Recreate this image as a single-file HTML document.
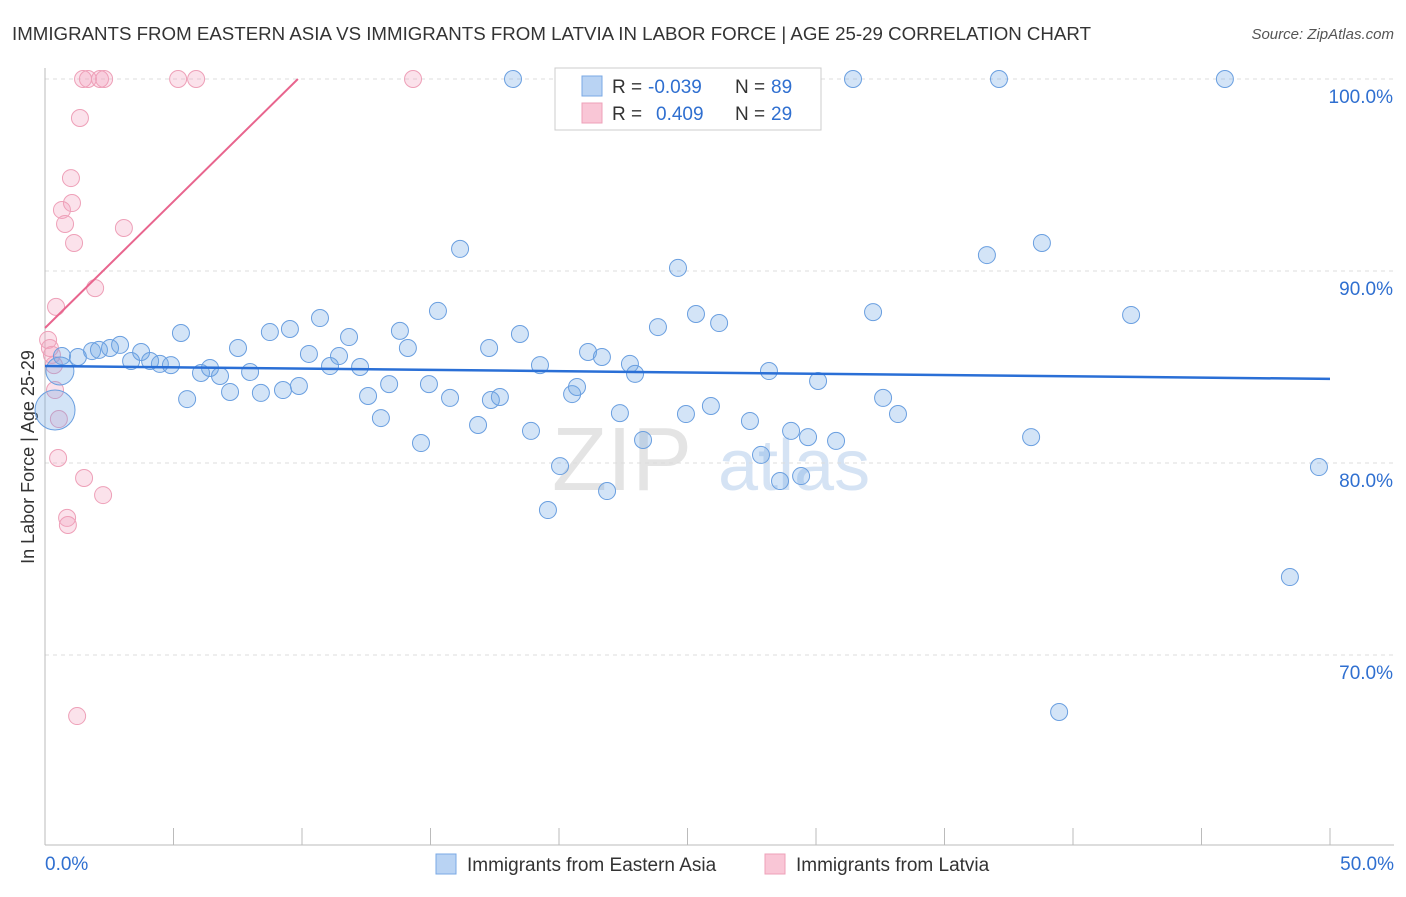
<!DOCTYPE html>
<html><head><meta charset="utf-8"><style>
body{margin:0;background:#fff;font-family:"Liberation Sans",sans-serif}
svg text{font-family:"Liberation Sans",sans-serif}
</style></head><body>
<svg id="chart" width="1406" height="892" xmlns="http://www.w3.org/2000/svg">
<text x="12" y="40" font-size="18" fill="#333" textLength="1079" lengthAdjust="spacingAndGlyphs">IMMIGRANTS FROM EASTERN ASIA VS IMMIGRANTS FROM LATVIA IN LABOR FORCE | AGE 25-29 CORRELATION CHART</text>
<text x="1394" y="39" font-size="15" fill="#555" text-anchor="end" font-style="italic">Source: ZipAtlas.com</text>
<text transform="translate(34,457) rotate(-90)" font-size="18" fill="#333" text-anchor="middle">In Labor Force | Age 25-29</text>
<text x="552" y="490" font-size="90" fill="#e4e4e4" font-family="Liberation Serif">ZIP</text>
<text x="718" y="490" font-size="72" fill="#d5e3f4">atlas</text>
<g id="grid"></g><g id="marks"></g>
<g>
<rect x="555" y="68" width="266" height="62" fill="#fff" stroke="#ccc"/>
<rect x="582" y="76" width="20" height="20" fill="#b9d3f3" stroke="#7aa8e4"/>
<rect x="582" y="103" width="20" height="20" fill="#f9c6d6" stroke="#eea0b8"/>
<text x="612" y="93" font-size="19" fill="#333">R =</text>
<text x="648" y="93" font-size="19" fill="#2f6fd0">-0.039</text>
<text x="735" y="93" font-size="19" fill="#333">N =</text>
<text x="771" y="93" font-size="19" fill="#2f6fd0">89</text>
<text x="612" y="120" font-size="19" fill="#333">R =</text>
<text x="656" y="120" font-size="19" fill="#2f6fd0">0.409</text>
<text x="735" y="120" font-size="19" fill="#333">N =</text>
<text x="771" y="120" font-size="19" fill="#2f6fd0">29</text>
</g>
<g>
<rect x="436" y="854" width="20" height="20" fill="#b9d3f3" stroke="#7aa8e4"/>
<text x="467" y="871" font-size="19" fill="#333">Immigrants from Eastern Asia</text>
<rect x="765" y="854" width="20" height="20" fill="#f9c6d6" stroke="#eea0b8"/>
<text x="796" y="871" font-size="19" fill="#333">Immigrants from Latvia</text>
</g>
</svg>
<script>
const yTicks=[100,90,80,70];
const xTickVals=[0,5,10,15,20,25,30,35,40,45,50];
const blueX=[0.66,1.28,1.83,2.10,2.53,2.92,3.35,3.74,4.09,4.47,4.90,5.29,5.53,6.07,6.42,6.81,7.20,7.51,7.98,8.40,8.75,9.26,9.53,9.88,10.27,10.70,11.09,11.44,11.83,12.26,12.57,13.07,13.39,13.81,14.12,14.63,14.94,15.29,15.76,16.15,16.85,17.28,17.35,17.70,18.21,18.48,18.91,19.26,19.57,20.04,20.51,20.70,21.13,21.67,21.87,22.37,22.76,22.96,23.27,23.85,24.63,24.94,25.33,25.91,26.23,27.43,27.86,28.17,28.60,29.03,29.42,29.69,30.08,30.78,31.44,32.22,32.61,33.19,36.65,37.12,38.37,38.79,39.46,42.26,45.91,48.44,49.57];
const blueY=[85.57,85.52,85.83,85.89,85.99,86.15,85.31,85.78,85.31,85.16,85.10,86.77,83.33,84.69,84.95,84.53,83.70,85.99,84.74,83.65,86.82,83.80,86.98,84.01,85.68,87.55,85.05,85.57,86.56,85.00,83.49,82.34,84.11,86.88,85.99,81.04,84.11,87.92,83.39,91.15,81.98,85.99,83.28,83.44,100,86.72,81.67,85.10,77.55,79.84,83.59,83.96,85.78,85.52,78.54,82.60,85.16,84.64,81.20,87.08,90.16,82.55,87.76,82.97,87.29,82.19,80.42,84.79,79.06,81.67,79.32,81.35,84.27,81.15,100,87.86,83.39,82.55,90.83,100,81.35,91.46,67.03,87.71,100,74.06,79.79];
const bigX=[0.39,0.58];
const bigY=[82.76,84.79];
const pinkX=[1.48,1.67,2.14,2.30,5.18,5.88,14.32,1.36,1.01,1.05,0.66,0.78,1.13,3.07,1.95,0.43,0.12,0.19,0.27,0.35,0.39,0.54,0.51,1.52,2.26,0.86,0.89,1.25];
const pinkY=[100,100,100,100,100,100,100,97.97,94.84,93.54,93.18,92.45,91.46,92.24,89.11,88.13,86.41,85.99,85.63,85.10,83.80,82.29,80.26,79.22,78.33,77.14,76.77,66.82];
const blueTrend=[85.05,84.38];
const pinkTrend=[87.03,100];
const pinkTrendEnd=9.84;
const NS="http://www.w3.org/2000/svg";
const X=v=>45+v*25.7, Y=v=>79+(100-v)*19.2;
function mk(t,a,p){const e=document.createElementNS(NS,t);for(const k in a)e.setAttribute(k,a[k]);p.appendChild(e);return e;}
const g=document.getElementById('grid'), m=document.getElementById('marks');
yTicks.forEach(v=>{
 const l=mk('line',{x1:45,x2:1394,y1:Y(v),y2:Y(v),stroke:'#ddd','stroke-dasharray':'4,4'},g);
 
 
 const t=mk('text',{x:1393,y:Y(v)+24,'font-size':19,fill:'#2f6fd0','text-anchor':'end'},g);
 t.textContent=v.toFixed(1)+'%';
 
 
});
const ax=mk('line',{x1:45,x2:1394,y1:845,y2:845,stroke:'#bbb'},g);


const ay=mk('line',{x1:45,x2:45,y1:68,y2:845,stroke:'#bbb'},g);


xTickVals.forEach(v=>{
 const l=mk('line',{x1:X(v),x2:X(v),y1:828,y2:845,stroke:'#bbb'},g);
 
 
});
[[0,'start'],[50,'end']].forEach(([v,a])=>{
 const t=mk('text',{x:v?1394:45,y:870,'font-size':19,fill:'#2f6fd0','text-anchor':a},g);
 t.textContent=v.toFixed(1)+'%';
 
 
});
pinkX.forEach((x,i)=>{
 const c=mk('circle',{cx:X(x),cy:Y(pinkY[i]),r:8.5,fill:'rgba(243,160,188,0.3)',stroke:'#eea0b8','stroke-width':1},m);
 
 
});
blueX.forEach((x,i)=>{
 const c=mk('circle',{cx:X(x),cy:Y(blueY[i]),r:8.5,fill:'rgba(110,165,230,0.3)',stroke:'#6a9fe0','stroke-width':1},m);
 
 
});
bigX.forEach((x,i)=>{
 const c=mk('circle',{cx:X(x),cy:Y(bigY[i]),r:i?14:20,fill:'rgba(110,165,230,0.3)',stroke:'#6a9fe0','stroke-width':1},m);
 
 
});
const bt=mk('line',{x1:X(0),x2:X(50),y1:Y(blueTrend[0]),y2:Y(blueTrend[1]),stroke:'#2a6fd6','stroke-width':2.5},m);


const pt=mk('line',{x1:X(0),x2:X(pinkTrendEnd),y1:Y(pinkTrend[0]),y2:Y(pinkTrend[1]),stroke:'#e8658e','stroke-width':2},m);


</script>
</body></html>
